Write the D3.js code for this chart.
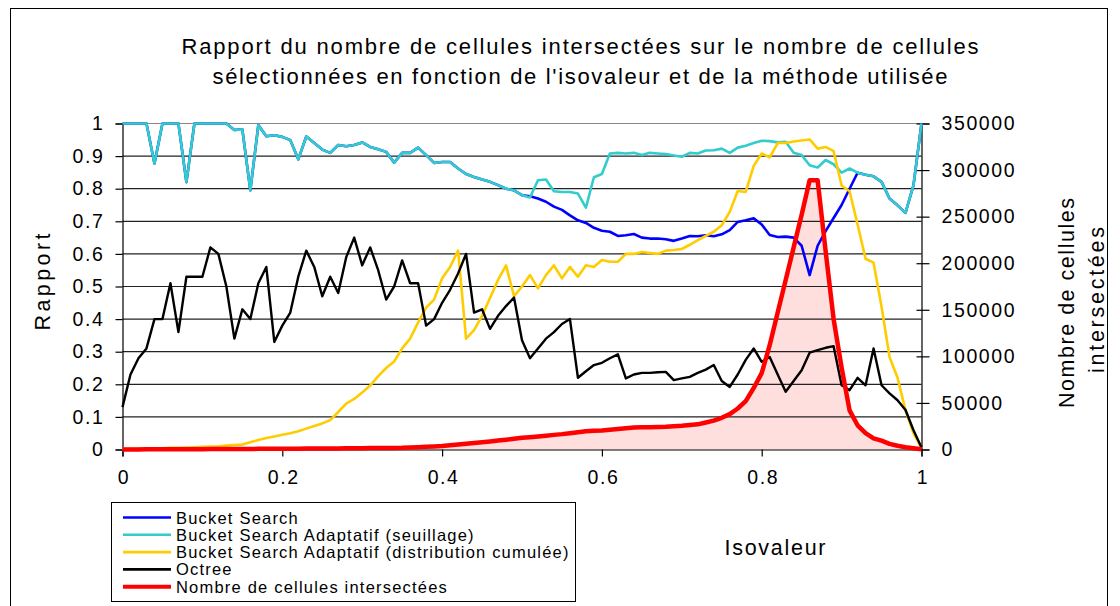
<!DOCTYPE html>
<html>
<head>
<meta charset="utf-8">
<script src="https://cdn.jsdelivr.net/npm/d3@7"></script>
<style>
  html, body { margin: 0; padding: 0; background: #fff; }
  svg { display: block; font-family: "Liberation Sans", Arial, sans-serif; }
</style>
</head>
<body>
<svg id="chart" width="1120" height="606"></svg>
<script>
// Isovalue samples (x axis)
const isovalues = [
  0.00,0.01,0.02,0.03,0.04,0.05,0.06,0.07,0.08,0.09,
  0.10,0.11,0.12,0.13,0.14,0.15,0.16,0.17,0.18,0.19,
  0.20,0.21,0.22,0.23,0.24,0.25,0.26,0.27,0.28,0.29,
  0.30,0.31,0.32,0.33,0.34,0.35,0.36,0.37,0.38,0.39,
  0.40,0.41,0.42,0.43,0.44,0.45,0.46,0.47,0.48,0.49,
  0.50,0.51,0.52,0.53,0.54,0.55,0.56,0.57,0.58,0.59,
  0.60,0.61,0.62,0.63,0.64,0.65,0.66,0.67,0.68,0.69,
  0.70,0.71,0.72,0.73,0.74,0.75,0.76,0.77,0.78,0.79,
  0.80,0.81,0.82,0.83,0.84,0.85,0.86,0.87,0.88,0.89,
  0.90,0.91,0.92,0.93,0.94,0.95,0.96,0.97,0.98,0.99,
  1.00
];

// Ratio: intersected cells / selected cells, per method
const bucketSearch = [
  1,1,1,1,0.877,1,1,1,0.82,1,
  1,1,1,1,0.98,0.982,0.795,0.995,0.961,0.964,
  0.959,0.949,0.89,0.96,0.94,0.92,0.91,0.934,0.93,0.934,
  0.942,0.928,0.921,0.913,0.88,0.91,0.91,0.926,0.903,0.879,
  0.882,0.882,0.862,0.845,0.836,0.828,0.821,0.811,0.80,0.795,
  0.78,0.777,0.77,0.76,0.745,0.735,0.718,0.703,0.695,0.68,
  0.671,0.668,0.655,0.657,0.661,0.65,0.647,0.647,0.645,0.64,
  0.647,0.655,0.654,0.657,0.654,0.66,0.673,0.698,0.703,0.709,
  0.69,0.658,0.652,0.653,0.65,0.625,0.535,0.625,0.67,0.71,
  0.75,0.80,0.849,0.843,0.838,0.821,0.77,0.749,0.726,0.811,
  1.0
];

const bucketSeuillage = [
  1,1,1,1,0.877,1,1,1,0.82,1,
  1,1,1,1,0.98,0.982,0.795,0.995,0.961,0.964,
  0.959,0.949,0.89,0.96,0.94,0.92,0.91,0.934,0.93,0.934,
  0.942,0.928,0.921,0.913,0.88,0.91,0.91,0.926,0.903,0.879,
  0.882,0.882,0.862,0.845,0.836,0.828,0.821,0.811,0.80,0.795,
  0.78,0.773,0.826,0.828,0.792,0.79,0.79,0.785,0.742,0.835,
  0.845,0.908,0.91,0.908,0.91,0.903,0.91,0.908,0.906,0.902,
  0.898,0.91,0.908,0.917,0.918,0.923,0.91,0.926,0.932,0.94,
  0.947,0.946,0.942,0.944,0.91,0.903,0.872,0.865,0.888,0.875,
  0.849,0.862,0.849,0.843,0.838,0.821,0.77,0.749,0.726,0.811,
  1.0
];

const bucketCumulee = [
  0.002,0.002,0.003,0.003,0.004,0.004,0.005,0.005,0.006,0.007,
  0.008,0.009,0.010,0.012,0.014,0.015,0.022,0.029,0.035,0.04,
  0.045,0.05,0.056,0.064,0.072,0.08,0.09,0.115,0.141,0.155,
  0.175,0.196,0.225,0.25,0.27,0.31,0.34,0.39,0.435,0.46,
  0.525,0.56,0.61,0.34,0.366,0.41,0.465,0.52,0.565,0.47,
  0.50,0.535,0.494,0.535,0.565,0.525,0.56,0.53,0.565,0.56,
  0.581,0.576,0.576,0.60,0.60,0.606,0.603,0.60,0.61,0.612,
  0.615,0.628,0.642,0.655,0.668,0.688,0.729,0.793,0.79,0.87,
  0.908,0.896,0.94,0.94,0.945,0.948,0.951,0.923,0.928,0.915,
  0.81,0.792,0.69,0.585,0.573,0.438,0.284,0.22,0.12,0.05,
  0.005
];

const octree = [
  0.13,0.23,0.28,0.31,0.40,0.40,0.51,0.36,0.53,0.53,
  0.53,0.62,0.60,0.50,0.34,0.43,0.40,0.51,0.56,0.33,
  0.38,0.42,0.53,0.61,0.56,0.47,0.53,0.48,0.59,0.65,
  0.565,0.62,0.55,0.46,0.50,0.58,0.51,0.51,0.38,0.40,
  0.45,0.49,0.54,0.60,0.42,0.43,0.37,0.41,0.44,0.466,
  0.335,0.28,0.31,0.34,0.36,0.385,0.40,0.22,0.24,0.259,
  0.266,0.28,0.292,0.218,0.23,0.235,0.235,0.237,0.238,0.213,
  0.218,0.223,0.235,0.245,0.259,0.21,0.192,0.23,0.275,0.31,
  0.269,0.284,0.23,0.177,0.21,0.243,0.297,0.305,0.312,0.317,
  0.197,0.182,0.22,0.197,0.31,0.197,0.172,0.151,0.121,0.059,
  0.006
];

// Number of intersected cells (secondary axis)
const intersectedCells = [
  0,50,100,150,200,200,250,300,330,370,
  400,440,480,520,560,600,640,680,720,760,
  800,850,900,950,1000,1100,1150,1200,1300,1350,
  1400,1480,1560,1640,1720,1800,2100,2500,2900,3300,
  3800,4500,5300,6100,7000,7800,8700,9600,10500,11500,
  12500,13200,14000,14800,15700,16500,17500,18500,19500,20000,
  20500,21200,22000,22800,23500,23800,24000,24200,24500,25000,
  25500,26200,27000,29000,31000,34000,38000,44000,52000,66000,
  82000,112000,147000,182000,217000,252000,289000,289000,213000,140000,
  88000,42000,26000,17500,12000,9500,6000,4000,2500,1400,
  300
];

const ratioTicks = [0,0.1,0.2,0.3,0.4,0.5,0.6,0.7,0.8,0.9,1];
const ratioTickLabels = ["0","0.1","0.2","0.3","0.4","0.5","0.6","0.7","0.8","0.9","1"];
const countTicks = [0,50000,100000,150000,200000,250000,300000,350000];
const isoTicks = [0,0.2,0.4,0.6,0.8,1];
const isoTickLabels = ["0","0.2","0.4","0.6","0.8","1"];

const titleLines = [
  "Rapport du nombre de cellules intersectées sur le nombre de cellules",
  "sélectionnées en fonction de l'isovaleur et de la méthode utilisée"
];

const seriesDefs = [
  { name: "Bucket Search", values: bucketSearch, color: "#0000ff", width: 2.6 },
  { name: "Bucket Search Adaptatif (seuillage)", values: bucketSeuillage, color: "#33cccc", width: 2.6 },
  { name: "Bucket Search Adaptatif (distribution cumulée)", values: bucketCumulee, color: "#ffcc00", width: 2.6 },
  { name: "Octree", values: octree, color: "#000000", width: 2.4 }
];
const countSeries = { name: "Nombre de cellules intersectées", color: "#ff0000", fill: "#ffdede", width: 4.5 };

const svg = d3.select("#chart");
const plotLeft = 122.5, plotRight = 921.5, plotTop = 123.5, plotBottom = 449.5;

const x = d3.scaleLinear().domain([0, 1]).range([plotLeft, plotRight]);
const y = d3.scaleLinear().domain([0, 1]).range([plotBottom, plotTop]);
const y2 = d3.scaleLinear().domain([0, 350000]).range([plotBottom, plotTop]);

// outer frame
svg.append("rect")
  .attr("x", 10.5).attr("y", 8.5).attr("width", 1097).attr("height", 640)
  .attr("fill", "none").attr("stroke", "#000").attr("stroke-width", 1);

// title
svg.selectAll("text.title").data(titleLines).join("text")
  .attr("class", "title")
  .attr("x", 580).attr("y", (d, i) => 54 + i * 30)
  .attr("text-anchor", "middle")
  .attr("font-size", 22)
  .attr("textLength", (d, i) => i === 0 ? 797 : 735)
  .attr("lengthAdjust", "spacing")
  .attr("fill", "#000")
  .text(d => d);

// area under the intersected cell count
const area = d3.area()
  .x((d, i) => x(isovalues[i]))
  .y0(y2(0))
  .y1(d => y2(d));
svg.append("path")
  .datum(intersectedCells)
  .attr("d", area)
  .attr("fill", countSeries.fill);

// horizontal gridlines
svg.append("g").selectAll("line").data(ratioTicks.slice(1)).join("line")
  .attr("x1", plotLeft).attr("x2", plotRight)
  .attr("y1", d => y(d)).attr("y2", d => y(d))
  .attr("stroke", (d) => d === 1 ? "#888" : "#222")
  .attr("stroke-width", 1.2);

// axes
const axisFont = g => g.selectAll("text")
  .attr("font-family", "Liberation Sans, Arial, sans-serif")
  .attr("font-size", 19.5)
  .attr("letter-spacing", 1.6)
  .attr("fill", "#000");

const yAxis = svg.append("g")
  .attr("transform", `translate(${plotLeft},0)`)
  .call(d3.axisLeft(y).tickValues(ratioTicks)
    .tickFormat((d, i) => ratioTickLabels[i]).tickSize(7).tickPadding(11));
yAxis.call(axisFont);
yAxis.selectAll("path, line").attr("stroke", "#000").attr("stroke-width", 1.2);

const y2Axis = svg.append("g")
  .attr("transform", `translate(${plotRight},0)`)
  .call(d3.axisRight(y2).tickValues(countTicks)
    .tickFormat(d3.format("d")).tickSize(8).tickPadding(12));
y2Axis.call(axisFont);
y2Axis.selectAll("line").attr("x1", -5);
y2Axis.selectAll("path, line").attr("stroke", "#000").attr("stroke-width", 1.2);

const xAxis = svg.append("g")
  .attr("transform", `translate(0,${plotBottom})`)
  .call(d3.axisBottom(x).tickValues(isoTicks)
    .tickFormat((d, i) => isoTickLabels[i]).tickSize(7).tickPadding(14));
xAxis.call(axisFont);
xAxis.selectAll("path, line").attr("stroke", "#000").attr("stroke-width", 1.2);
xAxis.selectAll("text").attr("dx", 1);

// ratio series
const line = d3.line().x((d, i) => x(isovalues[i])).y(d => y(d));
svg.append("g").selectAll("path").data(seriesDefs).join("path")
  .attr("d", d => line(d.values))
  .attr("fill", "none")
  .attr("stroke", d => d.color)
  .attr("stroke-width", d => d.width)
  .attr("stroke-linejoin", "round");

// intersected cell count line
const countLine = d3.line().x((d, i) => x(isovalues[i])).y(d => y2(d));
svg.append("path")
  .datum(intersectedCells)
  .attr("d", countLine)
  .attr("fill", "none")
  .attr("stroke", countSeries.color)
  .attr("stroke-width", countSeries.width)
  .attr("stroke-linejoin", "round");

// axis titles
svg.append("text")
  .attr("transform", "translate(50,282) rotate(-90)")
  .attr("text-anchor", "middle")
  .attr("font-size", 21.5)
  .attr("textLength", 97).attr("lengthAdjust", "spacing")
  .text("Rapport");

svg.append("text")
  .attr("x", 775).attr("y", 555)
  .attr("text-anchor", "middle")
  .attr("font-size", 21.5)
  .attr("textLength", 101).attr("lengthAdjust", "spacing")
  .text("Isovaleur");

const rightTitle = ["Nombre de cellules", "intersectées"];
svg.selectAll("text.rtitle").data(rightTitle).join("text")
  .attr("class", "rtitle")
  .attr("transform", (d, i) => `translate(${1074 + i * 30},${i === 0 ? 303 : 300}) rotate(-90)`)
  .attr("text-anchor", "middle")
  .attr("font-size", 21.5)
  .attr("textLength", (d, i) => i === 0 ? 210 : 146)
  .attr("lengthAdjust", "spacing")
  .text(d => d);

// legend
const legendItems = seriesDefs.concat([countSeries]);
const legend = svg.append("g");
legend.append("rect")
  .attr("x", 111.5).attr("y", 502.5).attr("width", 464).attr("height", 99)
  .attr("fill", "#fff").attr("stroke", "#000").attr("stroke-width", 1);
const rows = legend.selectAll("g").data(legendItems).join("g")
  .attr("transform", (d, i) => `translate(0,${517.5 + i * 17.3})`);
rows.append("line")
  .attr("x1", 123).attr("x2", 171)
  .attr("stroke", d => d.color)
  .attr("stroke-width", d => d === countSeries ? 4 : 2.6);
rows.append("text")
  .attr("x", 176).attr("y", 6)
  .attr("font-size", 16.5)
  .attr("letter-spacing", 1.2)
  .text(d => d.name);
</script>
</body>
</html>
